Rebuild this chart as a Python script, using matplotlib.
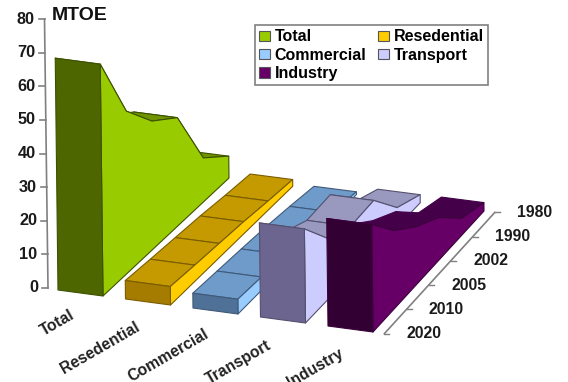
import numpy as np
import matplotlib
matplotlib.use("Agg")
import matplotlib.pyplot as plt
from matplotlib.patches import Patch, Polygon

plt.rcParams['font.family'] = ['Liberation Sans', 'DejaVu Sans']
plt.rcParams['font.weight'] = 'bold'

years = ['1980', '1990', '2002', '2005', '2010', '2020']
categories = ['Total', 'Resedential', 'Commercial', 'Transport', 'Industry']
y_ticks = [0, 10, 20, 30, 40, 50, 60, 70, 80]

# MTOE per sector, same order as years
total = [6.5, 13, 32, 38, 48, 69]
resedential = [2, 2.7, 3.6, 4.2, 4.8, 5.5]
commercial = [0.8, 1.9, 2.8, 3.4, 3.9, 4.4]
transport = [2.4, 5.7, 15, 14.5, 18, 28]
industry = [2.5, 5, 12.5, 17, 23, 32]

front_colors = ['#4d6600', '#a67c00', '#4f7197', '#6b6590', '#330033']
side_colors = ['#99cc00', '#ffcc00', '#99ccff', '#ccccff', '#660066']
top_colors = ['#6f9400', '#c49a00', '#6f9bcb', '#9999c0', '#45004a']
edge_colors = ['#3d5200', '#7a5c00', '#3f5a78', '#55506f', '#3a003a']

# floor corners of the oblique box, in figure pixels
FRONT0 = np.array([103.0, 296.0])
FRONT_STEP = np.array([67.5, 9.0])
BACK0 = np.array([229.0, 178.0])
BACK_STEP = np.array([63.75, 8.25])
RIBBON = 2 / 3
PX_PER_UNIT = 3.36
LEAN = 0.04  # verticals tip a little to the left


def project(cat, t, value=0.0):
    # cat: sector position, t: 0 at the front year and 1 at the back one
    front = FRONT0 + cat * FRONT_STEP
    back = BACK0 + cat * BACK_STEP
    p = front + (back - front) * t
    return p[0] - value * LEAN, p[1] - value * PX_PER_UNIT


def draw_ribbon(ax, cat, values, i):
    vals = list(values)[::-1]  # front year first
    ts = np.linspace(0, 1, len(vals))
    kw = dict(edgecolor=edge_colors[i], linewidth=0.8, joinstyle='round')
    top_edge = top_colors[i] if i == 4 else edge_colors[i]

    for k in range(len(vals) - 1, 0, -1):
        quad = [project(cat, ts[k], vals[k]),
                project(cat - RIBBON, ts[k], vals[k]),
                project(cat - RIBBON, ts[k - 1], vals[k - 1]),
                project(cat, ts[k - 1], vals[k - 1])]
        ax.add_patch(Polygon(quad, facecolor=top_colors[i], edgecolor=top_edge,
                             linewidth=0.8, joinstyle='round'))

    side = [project(cat, t, v) for t, v in zip(ts, vals)]
    side += [project(cat, 1), project(cat, 0)]
    ax.add_patch(Polygon(side, facecolor=side_colors[i], **kw))

    front = [project(cat, 0, vals[0]), project(cat - RIBBON, 0, vals[0]),
             project(cat - RIBBON, 0), project(cat, 0)]
    ax.add_patch(Polygon(front, facecolor=front_colors[i], **kw))


fig = plt.figure(figsize=(5.68, 3.82), dpi=100)
ax = fig.add_axes([0, 0, 1, 1])
ax.set_xlim(0, 568)
ax.set_ylim(382, 0)
ax.axis('off')

series = [total, resedential, commercial, transport, industry]
for i, values in enumerate(series):
    draw_ribbon(ax, i, values, i)

# value axis, leans slightly like the rest of the box
axis_color = '#808080'
y0, y80 = 288, 19
ax.plot([48, 44.5], [y0, y80], color=axis_color, lw=1.2)
for v in y_ticks:
    y = y0 + (y80 - y0) * v / 80
    x = 48 - 3.5 * v / 80
    ax.plot([x - 6, x], [y, y], color=axis_color, lw=1.2)
    ax.text(x - 10, y, str(v), ha='right', va='center', fontsize=11.7, color='#1a1a1a')

ax.text(52, 15, 'MTOE', ha='left', va='center', fontsize=14, color='#111111')

# depth axis with the years
DEPTH_CAT = 4.17
ts = np.linspace(0, 1, len(years))
ax.plot(*zip(project(DEPTH_CAT, 0), project(DEPTH_CAT, 1)), color=axis_color, lw=1.2)
for t, year in zip(ts, years[::-1]):
    x, y = project(DEPTH_CAT, t)
    ax.plot([x, x + 5], [y, y], color=axis_color, lw=1.0)
    ax.text(x + 40, y, year, ha='center', va='center', fontsize=11.3, color='#1a1a1a')

# sector labels under the front edge
label_pos = [(57, 323), (100, 348), (168, 355), (239, 362), (315, 368)]
for name, (x, y) in zip(categories, label_pos):
    ax.text(x, y, name, ha='center', va='center', rotation=30, rotation_mode='anchor',
            fontsize=11.3, color='#222222')

# filled column by column: left three, then right two
legend_order = [0, 2, 4, 1, 3]
handles = [Patch(facecolor=side_colors[i], edgecolor='#555555', linewidth=0.8,
                 label=categories[i]) for i in legend_order]
leg = ax.legend(handles=handles, ncol=2, loc='upper left',
                bbox_to_anchor=(255 / 568, 1 - 25 / 382), fontsize=11.5,
                frameon=True, fancybox=False, edgecolor='#808080', framealpha=1,
                handlelength=0.65, handleheight=0.65, handletextpad=0.3,
                columnspacing=0.75, labelspacing=0.2, borderpad=0.28, borderaxespad=0)
leg.get_frame().set_linewidth(1.2)

fig.savefig('out.png', dpi=100)
